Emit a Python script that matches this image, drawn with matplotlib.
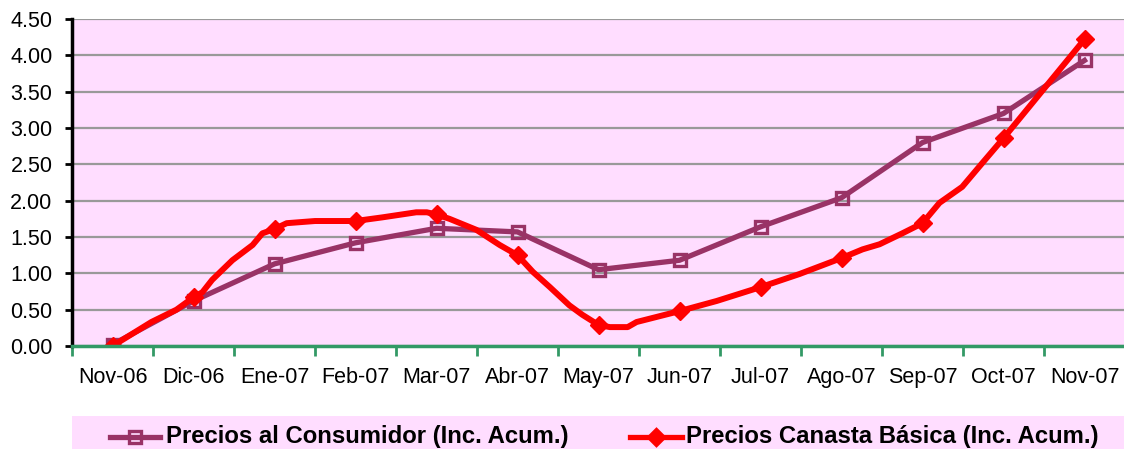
import matplotlib
matplotlib.use("Agg")
import matplotlib.pyplot as plt
from matplotlib.lines import Line2D
from matplotlib.patches import Rectangle
import numpy as np

plt.rcParams['font.family'] = ['Liberation Sans', 'DejaVu Sans']

# categories (monthly)
meses = ["Nov-06", "Dic-06", "Ene-07", "Feb-07", "Mar-07", "Abr-07", "May-07",
         "Jun-07", "Jul-07", "Ago-07", "Sep-07", "Oct-07", "Nov-07"]

# Precios al Consumidor (Inc. Acum.) - monthly
consumidor = [0.02, 0.62, 1.13, 1.42, 1.62, 1.57, 1.05, 1.18, 1.64, 2.04, 2.80, 3.20, 3.93]

# Precios Canasta Basica (Inc. Acum.) - finer observations, t in month units
canasta_t = [0, 0.48, 0.79, 1, 1.11, 1.23, 1.48, 1.73, 1.85, 2, 2.15, 2.5, 3, 3.33,
             3.75, 3.88, 4, 4.16, 4.49, 4.78, 5, 5.19, 5.4, 5.64, 5.8, 6, 6.14, 6.36,
             6.47, 7, 7.46, 8, 8.48, 9, 9.26, 9.47, 9.75, 10, 10.21, 10.49, 10.74, 11, 12]
canasta = [0.00, 0.33, 0.50, 0.67, 0.74, 0.91, 1.18, 1.39, 1.55, 1.61, 1.69, 1.72, 1.72, 1.77,
           1.84, 1.84, 1.81, 1.75, 1.60, 1.39, 1.25, 1.02, 0.81, 0.56, 0.43, 0.29, 0.26, 0.26,
           0.33, 0.48, 0.62, 0.81, 0.99, 1.21, 1.33, 1.40, 1.55, 1.69, 1.97, 2.19, 2.52, 2.86, 4.22]

yticks = np.arange(0, 4.51, 0.5)

PURPLE = "#993366"
RED = "#FF0000"
PINK = "#FFDDFF"
GREEN = "#339966"

W, H = 1124, 449
fig = plt.figure(figsize=(W / 100, H / 100), dpi=100)
ax = fig.add_axes([72 / W, (H - 346) / H, 1053 / W, 327 / H])
ax.set_facecolor(PINK)

x = np.arange(len(meses))
ax.plot(x, consumidor, color=PURPLE, lw=3.8, marker="s", ms=8, mfc="none",
        mec=PURPLE, mew=2.4, zorder=3)
is_month = [float(t).is_integer() for t in canasta_t]
ax.plot(canasta_t, canasta, color=RED, lw=4.3, marker="D", ms=9, mfc=RED, mec=RED,
        markevery=is_month, zorder=4)

ax.set_xlim(-0.5, len(meses) - 0.5)
ax.set_ylim(0, 4.5)
ax.set_yticks(yticks)
ax.set_yticklabels([f"{v:.2f}" for v in yticks])
ax.set_xticks(x)
ax.set_xticklabels(meses)
ax.set_xticks(np.arange(-0.5, len(meses), 1), minor=True)
ax.tick_params(axis="x", which="major", length=0, pad=15, labelsize=15.5)
ax.tick_params(axis="x", which="minor", length=7, width=2, color=GREEN, direction="out")
ax.tick_params(axis="y", length=5, width=2, color="black", pad=9, labelsize=15.5)

ax.grid(axis="y", color="#999999", lw=1.6)
ax.set_axisbelow(True)
for s in ["top", "right"]:
    ax.spines[s].set_visible(False)
ax.spines["left"].set_color("black")
ax.spines["left"].set_linewidth(2.5)
ax.spines["bottom"].set_color(GREEN)
ax.spines["bottom"].set_linewidth(2.5)
ax.spines["bottom"].set_zorder(5)

# legend band
fig.add_artist(Rectangle((72 / W, 0), 1 - 72 / W, 33 / H, transform=fig.transFigure,
                         facecolor=PINK, edgecolor="none"))
ly = (H - 437) / H
entries = [("Precios al Consumidor (Inc. Acum.)", PURPLE, "s", "none", 110, 160, 166),
           ("Precios Canasta Básica (Inc. Acum.)", RED, "D", RED, 630, 682, 686)]
for label, col, mk, fc, x0, x1, tx in entries:
    fig.add_artist(Line2D([x0 / W, x1 / W], [ly, ly], transform=fig.transFigure,
                          color=col, lw=3.8))
    fig.add_artist(Line2D([(x0 + x1) / 2 / W], [ly], transform=fig.transFigure,
                          marker=mk, ms=8, mfc=fc, mec=col, mew=2.4, color=col))
    fig.text(tx / W, ly, label, fontsize=17.2, fontweight="bold", va="center", ha="left")

fig.savefig("out.png", dpi=100)
